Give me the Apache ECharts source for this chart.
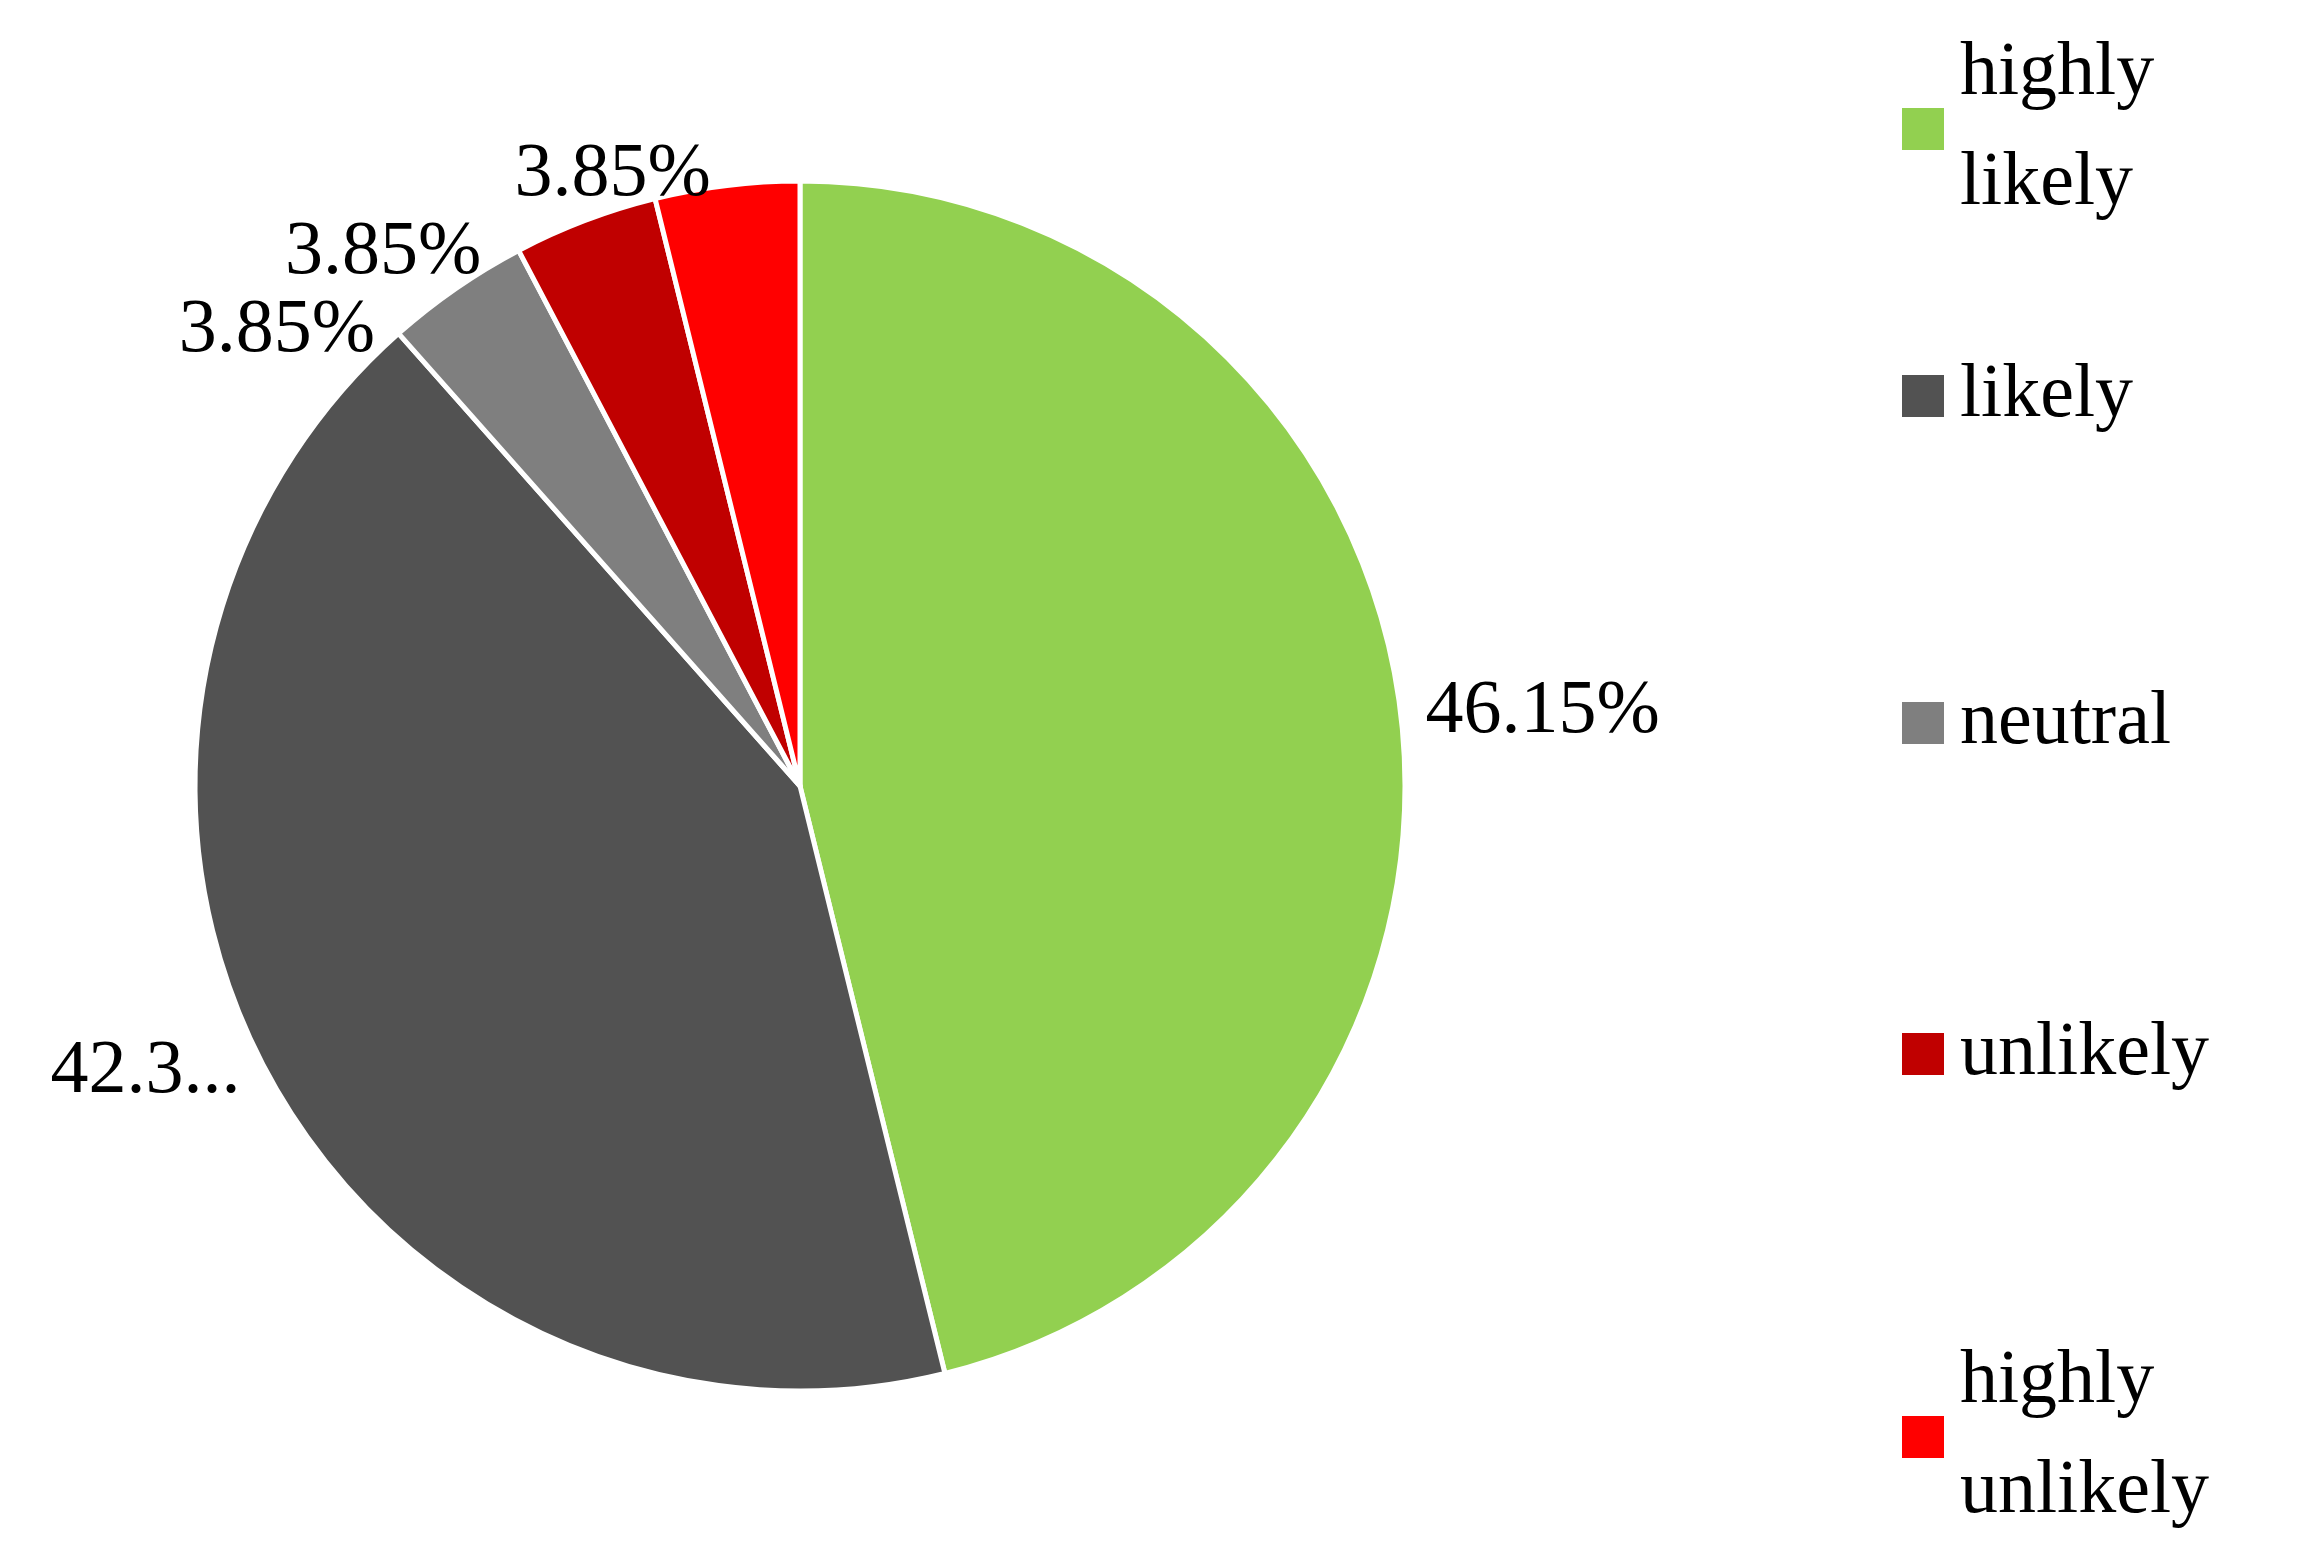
<!DOCTYPE html>
<html><head><meta charset="utf-8">
<script src="https://cdn.jsdelivr.net/npm/echarts@6/dist/echarts.min.js"></script>
<style>html,body{margin:0;background:#fff}#c{width:2301px;height:1563px}</style>
</head><body><div id="c"></div>
<script>
var names = ['highly likely', 'likely', 'neutral', 'unlikely', 'highly unlikely'];
var legendText = ['highly\nlikely', 'likely', 'neutral', 'unlikely', 'highly\nunlikely'];
var values = [46.15, 42.30, 3.85, 3.85, 3.85];
var colors = ['#92d050', '#525252', '#7f7f7f', '#c00000', '#ff0000'];
var legendCenters = [129, 396, 723, 1054, 1437];

var font = '"Liberation Serif", "DejaVu Serif", serif';
var chart = echarts.init(document.getElementById('c'));
var lh = 110;
var legends = names.map(function (n, i) {
  var lines = legendText[i].split('\n').length;
  return {
    data: [n], orient: 'vertical', left: 1900, top: legendCenters[i] - lh * lines / 2,
    itemWidth: 44, itemHeight: 44, icon: 'rect', itemGap: 0, padding: 0,
    formatter: function () { return legendText[i]; },
    textStyle: { fontFamily: font, fontSize: 76, color: '#000', lineHeight: lh, padding: [0, 0, 0, 10] },
    selectedMode: false
  };
});
chart.setOption({
  animation: false,
  color: colors,
  legend: legends,
  series: [{
    type: 'pie',
    center: [800, 786],
    radius: [0, 605],
    startAngle: 90,
    clockwise: true,
    itemStyle: { borderColor: '#fff', borderWidth: 5 },
    label: {
      show: true, position: 'outside', fontFamily: font, fontSize: 76, color: '#000',
      formatter: function (p) { return p.value.toFixed(2) + '%'; }
    },
    labelLine: { show: false, length: 10, length2: 10 },
    data: names.map(function (n, i) { return { name: n, value: values[i] }; })
  }]
});
</script></body></html>
